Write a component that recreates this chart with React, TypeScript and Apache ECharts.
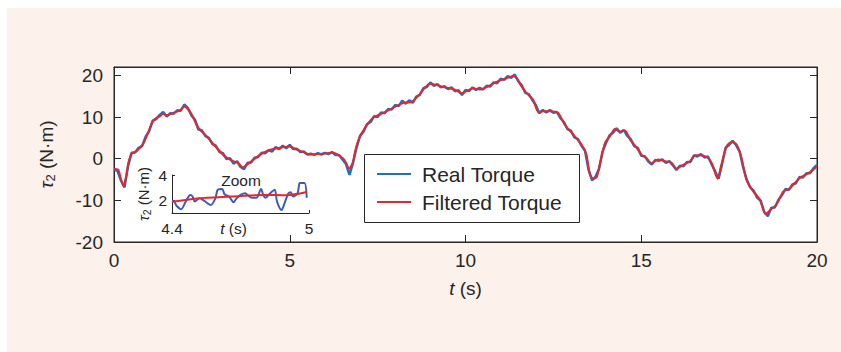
import React, { useEffect, useRef } from "react";
import * as echarts from "echarts";

// Filtered torque (red), read at irregular times (s)
const filteredTime = [
  0, 0.12, 0.2, 0.27, 0.35, 0.41, 0.5, 0.64, 0.83, 0.98, 1.07, 1.17, 1.31, 1.4, 1.5, 1.69, 1.88, 2.0, 2.11, 2.21,
  2.4, 2.63, 2.92, 3.15, 3.39, 3.53, 3.66, 3.77, 3.96, 4.15, 4.34, 4.53, 4.72, 5.0, 5.2, 5.43, 5.57, 5.95, 6.24, 6.43,
  6.57, 6.69, 6.8, 6.85, 6.95, 7.14, 7.37, 7.66, 7.94, 8.23, 8.46, 8.65, 8.84, 8.98, 9.17, 9.36, 9.55, 9.74, 9.89, 10.03,
  10.22, 10.41, 10.6, 10.79, 10.98, 11.16, 11.35, 11.45, 11.59, 11.73, 11.92, 12.07, 12.21, 12.4, 12.63, 12.82, 13.06, 13.3, 13.44, 13.53,
  13.63, 13.73, 13.82, 13.97, 14.11, 14.25, 14.39, 14.54, 14.68, 14.87, 15.01, 15.15, 15.29, 15.48, 15.67, 15.86, 16.0, 16.19, 16.38, 16.53,
  16.67, 16.86, 17.0, 17.17, 17.28, 17.43, 17.57, 17.71, 17.85, 17.99, 18.18, 18.37, 18.54, 18.7, 18.85, 19.04, 19.23, 19.37, 19.51, 19.65,
  19.84, 20.0,
];
const filteredTorque = [
  -2.5, -2.7, -5.0, -6.6, -4.0, -1.0, 1.2, 1.8, 3.6, 6.4, 8.4, 9.6, 10.2, 10.8, 10.4, 11.0, 11.6, 12.5, 11.8, 10.6,
  7.4, 5.4, 2.6, 0.6, -0.6, -1.0, -2.1, -1.5, -0.3, 0.9, 1.8, 2.3, 2.6, 2.9, 2.2, 1.4, 1.0, 1.2, 1.4, 0.6,
  -0.5, -2.4, -0.8, 1.4, 4.4, 7.4, 9.8, 11.0, 12.2, 13.4, 13.6, 15.0, 17.0, 18.0, 17.7, 17.2, 16.9, 16.4, 15.7, 16.2,
  16.9, 16.6, 17.2, 18.0, 18.8, 19.3, 19.8, 19.4, 17.4, 15.8, 14.2, 11.2, 11.4, 11.4, 11.0, 8.2, 5.8, 3.4, 1.0, -3.5,
  -4.8, -4.5, -1.4, 3.8, 5.4, 7.1, 6.5, 6.7, 4.6, 2.6, 0.9, 0.1, -1.1, -0.2, -0.6, -1.0, -2.4, -1.5, -0.7, 0.8,
  0.8, 0.4, -1.0, -4.8, -1.4, 3.0, 4.0, 3.4, 0.2, -5.0, -7.8, -9.8, -13.3, -12.1, -11.0, -7.9, -7.1, -5.8, -4.6, -4.0,
  -3.0, -1.8,
];

// Real torque (blue), sampled every 0.1 s from 0 to 20 s
const realTorque = [
  -2.6, -2.9, -5.3, -6.9, -1.8, 1.4, 1.5, 2.6, 3.0, 5.3,
  6.6, 9.1, 9.5, 10.5, 11.2, 10.1, 10.9, 10.8, 11.6, 11.5,
  13.0, 12.2, 10.4, 9.4, 7.0, 6.8, 5.4, 5.0, 3.5, 3.1,
  1.6, 1.3, -0.1, 0.1, -1.2, -0.6, -2.0, -2.5, -1.0, -0.9,
  0.2, 0.4, 1.4, 1.3, 2.0, 1.7, 2.8, 2.3, 3.1, 2.5,
  3.3, 2.3, 2.4, 1.6, 1.7, 1.0, 1.2, 0.9, 1.3, 1.0,
  1.4, 1.1, 1.6, 0.9, 0.9, -0.2, -1.3, -3.9, -1.0, 2.6,
  5.5, 6.5, 8.3, 8.8, 10.2, 10.0, 11.1, 10.9, 11.9, 11.8,
  12.9, 12.6, 13.9, 13.2, 14.0, 13.4, 14.9, 15.3, 16.9, 17.2,
  18.3, 17.5, 17.9, 17.1, 17.4, 16.7, 17.1, 16.2, 16.4, 15.3,
  16.5, 16.2, 17.1, 16.5, 17.0, 16.6, 17.5, 17.3, 18.3, 18.1,
  19.2, 18.9, 19.8, 19.4, 20.2, 18.6, 17.6, 15.8, 15.5, 14.1,
  12.9, 10.9, 11.7, 11.1, 11.7, 11.0, 11.2, 9.7, 8.8, 7.1,
  6.7, 5.1, 4.7, 3.1, 1.9, -2.6, -5.2, -4.3, -2.4, 1.7,
  3.8, 5.6, 6.2, 7.3, 6.2, 6.9, 5.5, 4.7, 3.0, 2.6,
  0.7, 0.6, -0.7, -1.4, -0.3, -0.5, -0.2, -1.0, -0.6, -1.6,
  -2.7, -1.7, -1.8, -0.8, -0.8, 0.8, 0.5, 1.1, 0.3, 0.5,
  -1.3, -3.0, -4.8, -1.3, 2.6, 3.3, 4.3, 3.2, 1.7, -2.1,
  -5.0, -6.9, -7.7, -9.4, -10.1, -12.8, -13.8, -11.8, -11.7, -9.9,
  -8.8, -7.3, -7.5, -6.2, -5.9, -4.4, -4.5, -3.5, -3.5, -2.3,
  -1.5,
];
const realTime = realTorque.map((_, i) => i / 10);

// Zoom inset (4.4 s to 5 s)
const zoomRealTime = [
  4.4, 4.41, 4.42, 4.44, 4.46, 4.48, 4.49, 4.5, 4.52, 4.54, 4.57, 4.59, 4.6, 4.62, 4.63, 4.65, 4.67, 4.68, 4.7,
  4.72, 4.73, 4.75, 4.77, 4.79, 4.8, 4.81, 4.83, 4.85, 4.86, 4.88, 4.89, 4.91, 4.92, 4.93, 4.95, 4.96, 4.98, 4.99,
];
const zoomReal = [
  2.0, 1.9, 1.57, 1.3, 1.9, 2.43, 2.3, 1.9, 2.16, 1.97, 1.63, 2.16, 2.83, 2.9, 2.48, 2.3, 1.84, 2.1, 2.43,
  2.56, 2.43, 2.2, 2.2, 2.9, 2.4, 2.2, 2.56, 2.83, 1.9, 1.23, 1.63, 2.56, 2.64, 2.3, 2.56, 3.36, 3.36, 2.2,
];
const zoomFiltTime = [4.4, 4.51, 4.66, 4.81, 4.9, 4.99];
const zoomFilt = [1.88, 2.15, 2.3, 2.43, 2.4, 2.65];

const xTicks = [0, 5, 10, 15, 20];
const yTicks = [-20, -10, 0, 10, 20];
const zoomXTicks = [4.4, 5];
const zoomYTicks = [2, 4];

const INK = "#262626";
const FONT = "'Liberation Sans', Arial, Helvetica, sans-serif";
const BLUE = "#1a73c2";
const RED = "#e5262e";
const ZBLUE = "#3a5db6";

export default function App() {
  const ref = useRef<HTMLDivElement>(null);

  useEffect(() => {
    if (!ref.current) return;
    const chart = echarts.init(ref.current, null, { renderer: "svg" });

    const boxAxis = (extra: any) => ({
      axisLine: { show: true, onZero: false, lineStyle: { color: INK, width: 1 } },
      axisTick: { show: true, inside: true, length: 7, lineStyle: { color: INK } },
      splitLine: { show: false },
      ...extra,
    });

    const option: any = {
      animation: false,
      textStyle: { fontFamily: FONT, color: INK },
      graphic: [
        {
          type: "rect",
          shape: { x: 7, y: 8, width: 834, height: 344 },
          style: { fill: "#fcf2eb" },
          z: -100,
          silent: true,
        },
        {
          type: "rect",
          shape: { x: 364.5, y: 154.5, width: 215, height: 68 },
          style: { fill: "#ffffff", stroke: INK, lineWidth: 1 },
          z: 3,
          silent: true,
        },
        {
          type: "text",
          x: 241,
          y: 180,
          style: {
            text: "Zoom",
            fontSize: 15.5,
            fontFamily: FONT,
            fill: INK,
            align: "center",
            verticalAlign: "middle",
          },
          z: 5,
          silent: true,
        },
      ],
      legend: {
        data: [
          { name: "Real Torque", icon: "rect", itemStyle: { color: BLUE } },
          { name: "Filtered Torque", icon: "rect", itemStyle: { color: RED } },
        ],
        orient: "vertical",
        left: 377,
        top: 163,
        padding: 0,
        itemGap: 6,
        itemWidth: 34,
        itemHeight: 2,
        z: 6,
        textStyle: { fontSize: 21, color: INK, fontFamily: FONT, lineHeight: 22, padding: [0, 0, 0, 6] },
      },
      grid: [
        {
          left: 114,
          top: 67,
          width: 703,
          height: 175,
          show: true,
          backgroundColor: "#ffffff",
          borderColor: INK,
          borderWidth: 1,
        },
        { left: 172, top: 175, width: 137, height: 38 },
      ],
      xAxis: [
        boxAxis({
          type: "value",
          gridIndex: 0,
          position: "bottom",
          min: 0,
          max: 20,
          interval: 5,
          axisLabel: {
            color: INK,
            fontSize: 19,
            margin: 9,
            fontFamily: FONT,
            customValues: xTicks,
          },
          axisTick: { show: true, inside: true, length: 7, lineStyle: { color: INK }, customValues: xTicks },
          name: "{i|t} (s)",
          nameLocation: "middle",
          nameGap: 37,
          nameMoveOverlap: false,
          nameTextStyle: {
            color: INK,
            fontSize: 19,
            fontFamily: FONT,
            rich: { i: { fontStyle: "italic", fontSize: 19, fontFamily: FONT, color: INK } },
          },
        }),
        boxAxis({
          type: "value",
          gridIndex: 0,
          position: "top",
          min: 0,
          max: 20,
          interval: 5,
          axisLabel: { show: false },
          axisTick: { show: true, inside: true, length: 7, lineStyle: { color: INK }, customValues: xTicks },
        }),
        {
          type: "value",
          gridIndex: 1,
          min: 4.4,
          max: 5,
          axisLine: { show: true, onZero: false, lineStyle: { color: INK, width: 1 } },
          axisTick: { show: true, inside: true, length: 3, lineStyle: { color: INK }, customValues: zoomXTicks },
          axisLabel: {
            color: INK,
            fontSize: 15.5,
            margin: 7,
            fontFamily: FONT,
            customValues: zoomXTicks,
            formatter: (v: number) => String(v),
          },
          splitLine: { show: false },
          name: "{i|t} (s)",
          nameLocation: "middle",
          nameGap: 7,
          nameMoveOverlap: false,
          nameTextStyle: {
            color: INK,
            fontSize: 15.5,
            fontFamily: FONT,
            padding: [0, 14, 0, 0],
            rich: { i: { fontStyle: "italic", fontSize: 15.5, fontFamily: FONT, color: INK } },
          },
        },
      ],
      yAxis: [
        boxAxis({
          type: "value",
          gridIndex: 0,
          position: "left",
          min: -20,
          max: 22,
          axisLabel: {
            color: INK,
            fontSize: 19,
            margin: 11,
            fontFamily: FONT,
            customValues: yTicks,
          },
          axisTick: { show: true, inside: true, length: 7, lineStyle: { color: INK }, customValues: yTicks },
          name: "{t|τ}{s|2} (N·m)",
          nameLocation: "middle",
          nameGap: 57,
          nameMoveOverlap: false,
          nameTextStyle: {
            color: INK,
            fontSize: 19,
            fontFamily: FONT,
            lineHeight: 22,
            rich: {
              t: { fontStyle: "italic", fontSize: 19, lineHeight: 22, verticalAlign: "middle", fontFamily: FONT, color: INK },
              s: { fontSize: 13, lineHeight: 22, verticalAlign: "bottom", fontFamily: FONT, color: INK },
            },
          },
        }),
        boxAxis({
          type: "value",
          gridIndex: 0,
          position: "right",
          min: -20,
          max: 22,
          axisLabel: { show: false },
          axisTick: { show: true, inside: true, length: 7, lineStyle: { color: INK }, customValues: yTicks },
        }),
        {
          type: "value",
          gridIndex: 1,
          min: 1,
          max: 4,
          axisLine: { show: true, onZero: false, lineStyle: { color: INK, width: 1 } },
          axisTick: { show: true, inside: true, length: 3, lineStyle: { color: INK }, customValues: zoomYTicks },
          axisLabel: {
            color: INK,
            fontSize: 15.5,
            margin: 5,
            fontFamily: FONT,
            customValues: zoomYTicks,
          },
          splitLine: { show: false },
          name: "{t|τ}{s|2} (N·m)",
          nameLocation: "middle",
          nameGap: 20,
          nameMoveOverlap: false,
          nameTextStyle: {
            color: INK,
            fontSize: 15,
            fontFamily: FONT,
            lineHeight: 18,
            rich: {
              t: { fontStyle: "italic", fontSize: 15, lineHeight: 18, verticalAlign: "middle", fontFamily: FONT, color: INK },
              s: { fontSize: 10.5, lineHeight: 18, verticalAlign: "bottom", fontFamily: FONT, color: INK },
            },
          },
        },
      ],
      series: [
        {
          name: "Real Torque",
          type: "line",
          xAxisIndex: 0,
          yAxisIndex: 0,
          data: realTime.map((t, i) => [t, realTorque[i]]),
          symbol: "none",
          showSymbol: false,
          lineStyle: { color: BLUE, width: 2.5 },
          itemStyle: { color: BLUE },
          z: 2,
        },
        {
          name: "Filtered Torque",
          type: "line",
          xAxisIndex: 0,
          yAxisIndex: 0,
          data: filteredTime.map((t, i) => [t, filteredTorque[i]]),
          symbol: "none",
          showSymbol: false,
          smooth: 0.25,
          lineStyle: { color: RED, width: 2 },
          itemStyle: { color: RED },
          z: 2,
        },
        {
          name: "zoomReal",
          type: "line",
          xAxisIndex: 2,
          yAxisIndex: 2,
          data: zoomRealTime.map((t, i) => [t, zoomReal[i]]),
          symbol: "none",
          showSymbol: false,
          smooth: 0.3,
          lineStyle: { color: ZBLUE, width: 2 },
          itemStyle: { color: ZBLUE },
          z: 2,
        },
        {
          name: "zoomFilt",
          type: "line",
          xAxisIndex: 2,
          yAxisIndex: 2,
          data: zoomFiltTime.map((t, i) => [t, zoomFilt[i]]),
          symbol: "none",
          showSymbol: false,
          smooth: 0.3,
          lineStyle: { color: RED, width: 2 },
          itemStyle: { color: RED },
          z: 2,
        },
      ],
    };

    chart.setOption(option);
    return () => chart.dispose();
  }, []);

  return (
    <div
      ref={ref}
      style={{ position: "absolute", left: 0, top: 0, width: 841, height: 352, background: "#ffffff" }}
    />
  );
}
